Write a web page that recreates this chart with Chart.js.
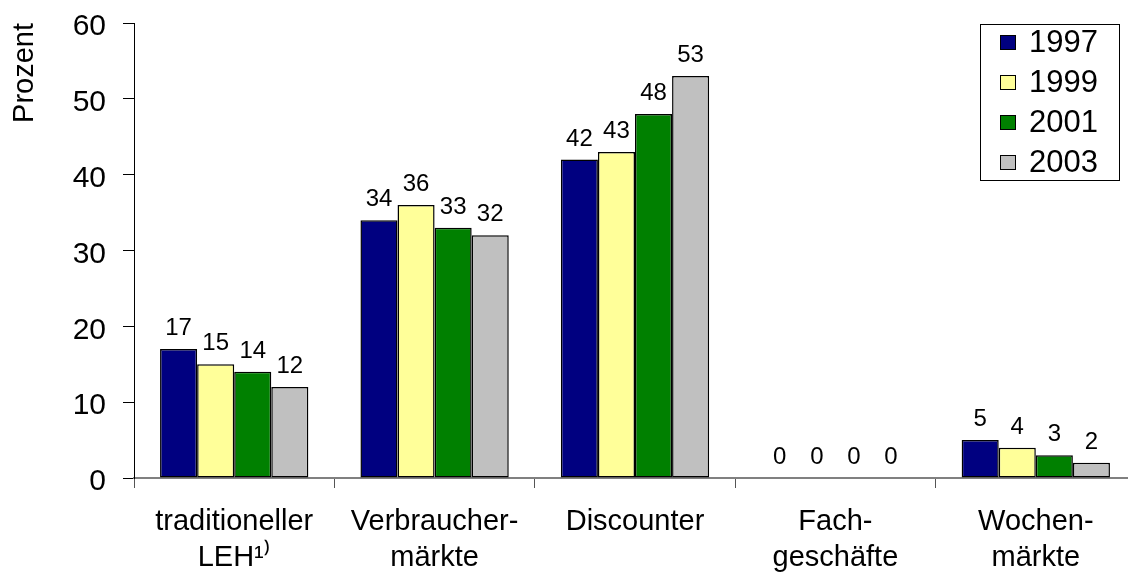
<!DOCTYPE html>
<html>
<head>
<meta charset="utf-8">
<script src="https://cdn.jsdelivr.net/npm/chart.js@4/dist/chart.umd.min.js"></script>
<style>
  html, body { margin: 0; padding: 0; background: #fff; overflow: hidden; }
  #wrap { position: relative; width: 1136px; height: 572px; }
</style>
</head>
<body>
<div id="wrap"><canvas id="c"></canvas></div>
<script>
// Einkaufsstätten – Anteile in Prozent
const categories = [
  ['traditioneller', 'LEH¹⁾'],
  ['Verbraucher-', 'märkte'],
  ['Discounter'],
  ['Fach-', 'geschäfte'],
  ['Wochen-', 'märkte']
];
const years = ['1997', '1999', '2001', '2003'];
const values1997 = [17, 34, 42, 0, 5];
const values1999 = [15, 36, 43, 0, 4];
const values2001 = [14, 33, 48, 0, 3];
const values2003 = [12, 32, 53, 0, 2];
const yTicks = [0, 10, 20, 30, 40, 50, 60];
const colors = ['#000080', '#FFFF99', '#008000', '#C0C0C0'];

const FONT = 'Liberation Sans, Arial, Helvetica, sans-serif';

const seriesValues = [values1997, values1999, values2001, values2003];
const datasets = years.map((y, i) => ({
  label: y,
  data: seriesValues[i],
  backgroundColor: colors[i],
  borderColor: '#000',
  borderWidth: ctx => (ctx.raw === 0 ? 0 : 1.5),
  borderSkipped: false,
  barPercentage: 1.0,
  categoryPercentage: 0.74
}));

// value labels above each bar
const valueLabels = {
  id: 'valueLabels',
  afterDatasetsDraw(chart) {
    const ctx = chart.ctx;
    ctx.save();
    ctx.font = '24px ' + FONT;
    ctx.fillStyle = '#000';
    ctx.textAlign = 'center';
    ctx.textBaseline = 'alphabetic';
    chart.data.datasets.forEach((ds, di) => {
      chart.getDatasetMeta(di).data.forEach((bar, i) => {
        ctx.fillText(String(ds.data[i]), bar.x, bar.y - 14);
      });
    });
    ctx.restore();
  }
};

// boxed legend in the upper right corner
const boxLegend = {
  id: 'boxLegend',
  afterDraw(chart) {
    const ctx = chart.ctx;
    const x0 = 980, y0 = 24, w = 139, h = 156;
    ctx.save();
    ctx.fillStyle = '#fff';
    ctx.fillRect(x0, y0, w, h);
    ctx.strokeStyle = '#000';
    ctx.lineWidth = 1;
    ctx.strokeRect(x0 + 0.5, y0 + 0.5, w, h);
    ctx.font = '31px ' + FONT;
    ctx.textBaseline = 'middle';
    ctx.textAlign = 'left';
    chart.data.datasets.forEach((ds, i) => {
      const cy = 42.5 + i * 40;
      ctx.fillStyle = ds.backgroundColor;
      ctx.fillRect(1000, cy - 7.5, 16, 15);
      ctx.strokeStyle = '#000';
      ctx.strokeRect(1000.5, cy - 7, 15, 14);
      ctx.fillStyle = '#000';
      ctx.fillText(ds.label, 1029, cy + 1);
    });
    ctx.restore();
  }
};

new Chart(document.getElementById('c'), {
  type: 'bar',
  data: { labels: categories, datasets },
  plugins: [valueLabels, boxLegend],
  options: {
    responsive: true,
    maintainAspectRatio: false,
    animation: false,
    layout: { padding: { top: 23, left: 0, right: 0, bottom: 0 } },
    plugins: {
      legend: { display: false },
      tooltip: { enabled: false }
    },
    scales: {
      x: {
        afterFit(scale) { scale.height = 94; },
        grid: {
          offset: true,
          drawOnChartArea: false,
          drawTicks: true,
          tickLength: 10,
          color: '#555',
          lineWidth: 1
        },
        border: { display: true, color: '#808080', width: 2 },
        ticks: {
          autoSkip: false,
          maxRotation: 0,
          minRotation: 0,
          padding: 16,
          color: '#000',
          font: { family: FONT, size: 29, lineHeight: 1.25 }
        }
      },
      y: {
        min: 0,
        max: 60,
        afterFit(scale) {
          scale.width = 134;
          scale.paddingTop = 0;
          scale.paddingBottom = 0;
        },
        afterBuildTicks(scale) { scale.ticks = yTicks.map(v => ({ value: v })); },
        grid: {
          drawOnChartArea: false,
          drawTicks: true,
          tickLength: 11,
          color: '#000',
          lineWidth: 1
        },
        border: { display: true, color: '#000', width: 1 },
        ticks: {
          padding: 17,
          labelOffset: 4,
          color: '#000',
          font: { family: FONT, size: 30 }
        },
        title: {
          display: true,
          text: 'Prozent',
          align: 'end',
          color: '#000',
          padding: { top: 8, bottom: 0 },
          font: { family: FONT, size: 29 }
        }
      }
    }
  }
});
</script>
</body>
</html>
